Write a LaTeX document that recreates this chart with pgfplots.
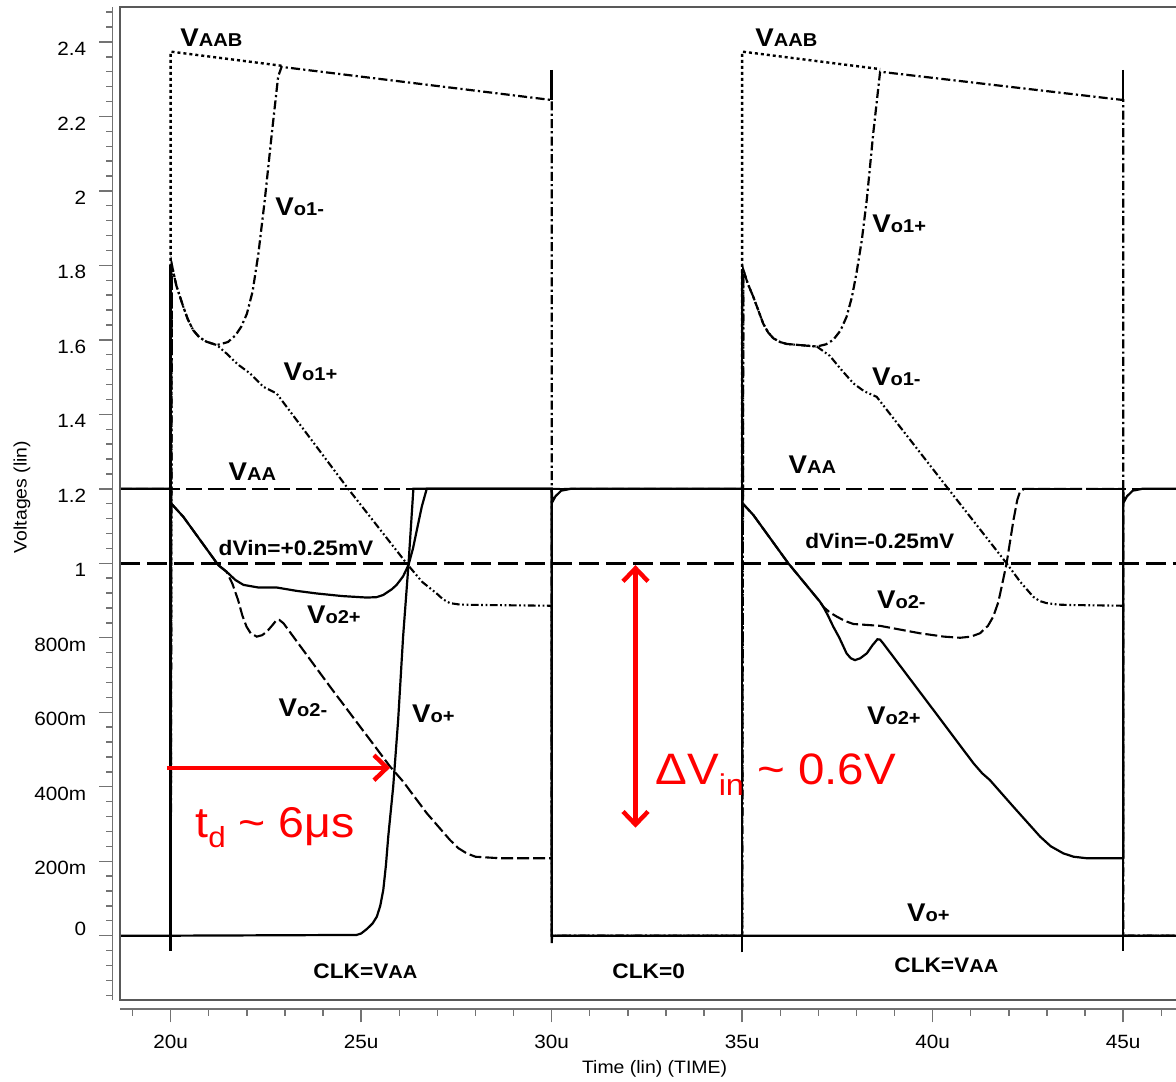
\documentclass[border=0pt]{standalone}
\usepackage{fontspec}
\setmainfont{Liberation Sans}[FakeStretch=1.08]
\usepackage{pgfplots}
\pgfplotsset{compat=1.18}
\usetikzlibrary{arrows.meta}

\newcommand{\lbl}[2]{{\bfseries\fontsize{12.8}{13}\selectfont #1\fontsize{9.3}{10}\selectfont #2}}

\pgfplotsset{
  vaab/.style={black, line width=1.2pt, dash pattern=on 1.5pt off 1.5pt},
  dashdot/.style={black, line width=1.1pt, dash pattern=on 4.5pt off 1.6pt on 1.1pt off 1.6pt},
  dashdotdot/.style={black, line width=1.05pt, dash pattern=on 3.8pt off 1.3pt on 0.9pt off 1.3pt on 0.9pt off 1.3pt},
  vaa/.style={black, line width=0.8pt, dash pattern=on 8pt off 3pt},
  vin/.style={black, line width=1.5pt, dash pattern=on 10pt off 3.5pt},
  vtwo/.style={black, line width=1.05pt, dash pattern=on 6pt off 2pt},
  sol/.style={black, line width=1.1pt, solid},
  edge/.style={black, line width=1.3pt, solid},
}

\begin{document}
\begin{tikzpicture}
\begin{axis}[
  x=19.05pt, y=186.2pt,
  xmin=18.669, xmax=46.39, ymin=-0.1727, ymax=2.4938,
  axis lines=left,
  axis line style={-, black!55, line width=0.7pt},
  axis x line shift=4.5pt,
  axis y line shift=3.65pt,
  tick align=outside,
  major tick length=6.7pt, minor tick length=3.3pt,
  every tick/.style={black!55, line width=0.7pt},
  xtick={20,25,30,35,40,45},
  xticklabels={20u,25u,30u,35u,40u,45u},
  minor xtick={19,20,...,46},
  ytick={0.2,0.4,0.6,0.8,1,1.2,1.4,1.6,1.8,2,2.2,2.4},
  yticklabels={200m,400m,600m,800m,1,1.2,1.4,1.6,1.8,2,2.2,2.4},
  minor ytick={-0.16,-0.12,-0.08,-0.04,0.04,0.08,0.12,0.16,0.24,0.28,0.32,0.36,0.44,0.48,0.52,0.56,0.64,0.68,0.72,0.76,0.84,0.88,0.92,0.96,1.04,1.08,1.12,1.16,1.24,1.28,1.32,1.36,1.44,1.48,1.52,1.56,1.64,1.68,1.72,1.76,1.84,1.88,1.92,1.96,2.04,2.08,2.12,2.16,2.24,2.28,2.32,2.36,2.44,2.48},
  extra y ticks={0},
  extra y tick labels={0},
  extra y tick style={yticklabel style={yshift=6.8pt}},
  yticklabel style={font=\fontsize{9.6}{10}\selectfont, yshift=-3.5pt, xshift=-3pt},
  xticklabel style={font=\fontsize{9.6}{10}\selectfont, yshift=-3pt},
  clip mode=individual,
  no marks,
]
% reference lines
\addplot[vaa] coordinates {(18.669,1.2) (46.39,1.2)};
\addplot[vin] coordinates {(18.669,1.0) (46.39,1.0)};
% VAAB
\addplot[vaab] coordinates {(20,1.2) (20,2.374) (22.91,2.336)};
\addplot[vaab] coordinates {(35,1.2) (35,2.374) (38.62,2.327)};
% rising first-stage output (dash-dot)
\addplot[dashdot] coordinates {
(20,0) (20.03,1.801) (20.15,1.745) (20.33,1.689) (20.45,1.655) (20.59,1.626) (20.75,1.607) (20.94,1.595) (21.21,1.586) (21.5,1.594) (21.7,1.612) (21.85,1.635) (22.0,1.67) (22.15,1.73) (22.3,1.83) (22.47,1.976) (22.65,2.15) (22.82,2.307) (22.91,2.333) (30,2.244) (30,0)
(35,0) (35.03,1.788) (35.15,1.75) (35.29,1.716) (35.42,1.68) (35.55,1.644) (35.68,1.62) (35.82,1.604) (36.0,1.594) (36.17,1.589) (36.96,1.582) (37.2,1.588) (37.39,1.60) (37.58,1.625) (37.74,1.662) (37.88,1.715) (38.0,1.779) (38.14,1.868) (38.27,1.976) (38.44,2.155) (38.62,2.32) (45,2.244) (45,0) (46.39,0)};
% falling first-stage output (dash-dot-dot)
\addplot[dashdotdot] coordinates {
(20,0) (20.03,1.801) (20.15,1.745) (20.33,1.689) (20.45,1.655) (20.59,1.626) (20.75,1.607) (20.94,1.595) (21.21,1.586) (21.47,1.563) (21.75,1.535) (22.08,1.51) (22.43,1.474) (22.78,1.456) (24.62,1.205) (26.19,1.0) (26.6,0.95) (26.98,0.919) (27.15,0.903) (27.33,0.893) (27.6,0.889) (28.2,0.888) (30,0.886) (30,0)
(35,0) (35.03,1.788) (35.15,1.75) (35.29,1.716) (35.42,1.68) (35.55,1.644) (35.68,1.62) (35.82,1.604) (36.0,1.594) (36.17,1.589) (36.96,1.582) (37.30,1.557) (37.6,1.52) (37.92,1.483) (38.2,1.462) (38.53,1.447) (40.37,1.205) (41.94,1.0) (42.3,0.95) (42.64,0.910) (42.8,0.899) (42.99,0.893) (43.3,0.889) (43.6,0.888) (45,0.886) (45,0) (46.39,0)};
% Vo2- (dashed)
\addplot[vtwo] coordinates {
(18.669,1.2) (20,1.2) (20.01,1.161) (20.33,1.125) (21.25,0.995) (21.47,0.977) (21.62,0.945) (21.77,0.901) (21.88,0.86) (21.99,0.83) (22.1,0.812) (22.26,0.803) (22.4,0.807) (22.52,0.816) (22.68,0.835) (22.78,0.848) (22.85,0.848) (22.96,0.839) (24.18,0.669) (25.76,0.454) (26.10,0.414) (26.72,0.329) (27.33,0.257) (27.55,0.235) (27.77,0.221) (28.0,0.212) (28.64,0.208) (30,0.208) (30,1.2)
(35,1.2) (35.01,1.161) (35.29,1.13) (36.21,1.0) (37.04,0.897) (37.13,0.883) (37.3,0.868) (37.48,0.857) (37.7,0.845) (37.92,0.837) (38.62,0.832) (39.67,0.812) (40.3,0.803) (40.72,0.800) (41.0,0.803) (41.24,0.812) (41.45,0.832) (41.59,0.857) (41.72,0.895) (41.81,0.937) (41.94,1.0) (42.12,1.116) (42.22,1.17) (42.29,1.192) (42.4,1.2) (45,1.2)};
% Vo2+ (solid)
\addplot[sol] coordinates {
(18.669,1.2) (20,1.2) (20.01,1.161) (20.33,1.125) (21.25,0.995) (21.47,0.977) (21.7,0.955) (21.91,0.942) (22.3,0.935) (22.78,0.935) (23.3,0.926) (23.83,0.919) (24.5,0.912) (25.14,0.908) (25.4,0.909) (25.58,0.915) (25.8,0.93) (25.93,0.942) (26.1,0.965) (26.24,0.995) (26.36,1.04) (26.46,1.089) (26.59,1.152) (26.72,1.2) (30,1.2) (30.02,1.165) (30.1,1.18) (30.25,1.195) (30.5,1.2)
(35,1.2) (35.01,1.161) (35.29,1.13) (36.21,1.0) (37.04,0.897) (37.13,0.883) (37.25,0.86) (37.39,0.83) (37.55,0.80) (37.74,0.758) (37.85,0.745) (37.96,0.74) (38.1,0.745) (38.27,0.758) (38.42,0.78) (38.55,0.796) (38.62,0.795) (38.70,0.785) (40.02,0.606) (41.07,0.463) (41.3,0.436) (41.5,0.418) (42.12,0.346) (42.82,0.266) (43.1,0.24) (43.43,0.221) (43.7,0.212) (44.04,0.208) (45,0.208) (45,1.2) (45.02,1.165) (45.1,1.18) (45.25,1.195) (45.5,1.2) (46.39,1.2)};
% Vo+ (solid)
\addplot[sol] coordinates {
(18.669,0) (20,0) (24.88,0.002) (25.0,0.006) (25.15,0.018) (25.3,0.033) (25.41,0.051) (25.5,0.08) (25.58,0.123) (25.65,0.19) (25.71,0.266) (25.84,0.40) (25.97,0.579) (26.10,0.803) (26.24,0.995) (26.37,1.2) (30,1.2) (30,-0.02) (30.01,0) (46.39,0)};
% switching edges
\addplot[edge] coordinates {(20,-0.04) (20,1.8)};
\addplot[edge] coordinates {(30,2.325) (30,2.244)};
\addplot[edge] coordinates {(35,-0.045) (35,1.79)};
\addplot[edge] coordinates {(45,2.325) (45,2.244)};
\addplot[edge] coordinates {(45,1.2) (45,-0.04)};

% frame
\draw[black!65, line width=0.75pt] (rel axis cs:1,1) -- (rel axis cs:0,1) -- (rel axis cs:0,0) -- (rel axis cs:1,0);

% curve labels
\begin{scope}[every node/.style={anchor=base west, inner sep=0pt}]
\node at (axis cs:20.244,2.387) {\lbl{V}{AAB}};
\node at (axis cs:35.336,2.387) {\lbl{V}{AAB}};
\node at (axis cs:22.737,1.935) {\lbl{V}{o1-}};
\node at (axis cs:22.955,1.492) {\lbl{V}{o1+}};
\node at (axis cs:21.512,1.222) {\lbl{V}{AA}};
\node at (axis cs:21.249,1.0196) {\bfseries\fontsize{10.5}{11}\selectfont dVin=+0.25mV};
\node at (axis cs:23.570,0.839) {\lbl{V}{o2+}};
\node at (axis cs:22.824,0.588) {\lbl{V}{o2-}};
\node at (axis cs:26.325,0.573) {\lbl{V}{o+}};
\node at (axis cs:38.407,1.887) {\lbl{V}{o1+}};
\node at (axis cs:38.399,1.477) {\lbl{V}{o1-}};
\node at (axis cs:36.210,1.242) {\lbl{V}{AA}};
\node at (axis cs:36.648,1.040) {\bfseries\fontsize{10.5}{11}\selectfont dVin=-0.25mV};
\node at (axis cs:38.530,0.879) {\lbl{V}{o2-}};
\node at (axis cs:38.268,0.566) {\lbl{V}{o2+}};
\node at (axis cs:39.318,0.0376) {\lbl{V}{o+}};
\node at (axis cs:23.735,-0.116) {\bfseries\fontsize{10.5}{11}\selectfont CLK=V\fontsize{9.3}{10}\selectfont AA};
\node at (axis cs:31.583,-0.116) {\bfseries\fontsize{10.5}{11}\selectfont CLK=0};
\node at (axis cs:38.984,-0.0975) {\bfseries\fontsize{10.5}{11}\selectfont CLK=V\fontsize{9.3}{10}\selectfont AA};
\end{scope}

% red annotations
\draw[red, line width=2.2pt, -{Straight Barb[length=6.5pt,width=12.5pt]}] (axis cs:19.9,0.451) -- (axis cs:25.76,0.451);
\draw[red, line width=2.2pt, {Straight Barb[length=6.5pt,width=12.5pt]}-{Straight Barb[length=6.5pt,width=12.5pt]}] (axis cs:32.2,0.995) -- (axis cs:32.2,0.29);
\node[red, anchor=base west, inner sep=0pt, font=\fontsize{21.5}{21.5}\selectfont] at (axis cs:20.64,0.265) {t\raisebox{-0.25em}{\fontsize{14.5}{14.5}\selectfont d} \textasciitilde{} 6μs};
\node[red, anchor=base west, inner sep=0pt, font=\fontsize{22}{22}\selectfont] at (axis cs:32.71,0.405) {ΔV\raisebox{-0.25em}{\fontsize{15}{15}\selectfont in} \textasciitilde{} 0.6V};

% axis titles
\node[rotate=90, font=\fontsize{9}{10}\selectfont] at (axis cs:16.097,1.178) {Voltages (lin)};
\node[font=\fontsize{9}{10}\selectfont] at (axis cs:32.70,-0.358) {Time (lin) (TIME)};

\coordinate (imgBL) at (axis cs:15.5197,-0.39286);
\coordinate (imgTR) at (axis cs:46.386,2.51262);
\end{axis}
\pgfresetboundingbox
\useasboundingbox (imgBL) rectangle (imgTR);
\end{tikzpicture}
\end{document}
